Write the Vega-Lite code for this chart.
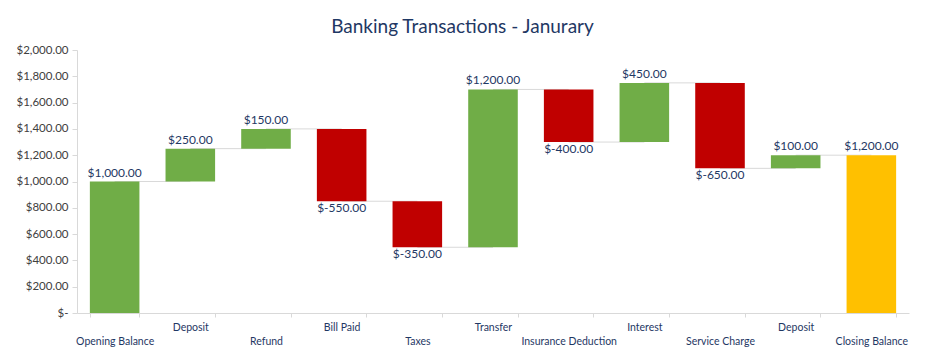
{
  "$schema": "https://vega.github.io/schema/vega-lite/v6.json",
  "width": 832,
  "height": 263,
  "padding": {"left": 15, "top": 18, "right": 17, "bottom": 5},
  "config": {"view": {"stroke": null}},
  "title": {"text": "Banking Transactions - Janurary", "font": "Lato", "fontSize": 19, "fontWeight": "normal", "color": "#1F3864", "anchor": "middle", "frame": "bounds", "offset": 7},
  "data": {"values": [
    {"cat": "Opening Balance", "amount": 1000, "start": 0, "end": 1000, "type": "up", "next": "Deposit"},
    {"cat": "Deposit", "amount": 250, "start": 1000, "end": 1250, "type": "up", "next": "Refund"},
    {"cat": "Refund", "amount": 150, "start": 1250, "end": 1400, "type": "up", "next": "Bill Paid"},
    {"cat": "Bill Paid", "amount": -550, "start": 1400, "end": 850, "type": "down", "next": "Taxes"},
    {"cat": "Taxes", "amount": -350, "start": 850, "end": 500, "type": "down", "next": "Transfer"},
    {"cat": "Transfer", "amount": 1200, "start": 500, "end": 1700, "type": "up", "next": "Insurance Deduction"},
    {"cat": "Insurance Deduction", "amount": -400, "start": 1700, "end": 1300, "type": "down", "next": "Interest"},
    {"cat": "Interest", "amount": 450, "start": 1300, "end": 1750, "type": "up", "next": "Service Charge"},
    {"cat": "Service Charge", "amount": -650, "start": 1750, "end": 1100, "type": "down", "next": "Deposit "},
    {"cat": "Deposit ", "amount": 100, "start": 1100, "end": 1200, "type": "up", "next": "Closing Balance"},
    {"cat": "Closing Balance", "amount": 1200, "start": 0, "end": 1200, "type": "total", "next": null}
  ]},
  "transform": [
    {"calculate": "'$' + (datum.amount < 0 ? '-' : '') + format(abs(datum.amount), ',.2f')", "as": "label"}
  ],
  "encoding": {
    "x": {
      "field": "cat", "type": "nominal", "sort": null,
      "scale": {
        "domain": ["Opening Balance", "Deposit", "Refund", "Bill Paid", "Taxes", "Transfer", "Insurance Deduction", "Interest", "Service Charge", "Deposit ", "Closing Balance"],
        "paddingInner": 0.345, "paddingOuter": 0.17
      },
      "axis": {
        "title": null, "labelAngle": 0, "labelFont": "Lato", "labelFontSize": 10.5, "labelColor": "#1F3864",
        "domainColor": "#D9D9D9", "tickColor": "#D9D9D9", "tickSize": 4, "tickBand": "extent",
        "labelBaseline": "middle", "labelOverlap": false, "labelLimit": 200,
        "labelExpr": "datum.value == null ? '' : trim(datum.value)",
        "labelPadding": {"condition": {"test": "indexof(['Opening Balance','Refund','Taxes','Insurance Deduction','Service Charge','Closing Balance'], datum.value) >= 0", "value": 24}, "value": 10}
      }
    },
    "y": {
      "field": "end", "type": "quantitative",
      "scale": {"domain": [0, 2000], "nice": false},
      "axis": {
        "title": null, "grid": false, "values": [0, 200, 400, 600, 800, 1000, 1200, 1400, 1600, 1800, 2000],
        "labelOverlap": false,
        "labelExpr": "datum.value === 0 ? '$-' : '$' + format(datum.value, ',.2f')",
        "labelFont": "Lato", "labelFontSize": 11.5, "labelColor": "#404040",
        "domainColor": "#D9D9D9", "tickColor": "#D9D9D9", "tickSize": 5, "labelPadding": 4
      }
    }
  },
  "layer": [
    {
      "transform": [{"filter": "datum.next != null"}],
      "mark": {"type": "rule", "color": "#D9D9D9", "strokeWidth": 1},
      "encoding": {
        "x2": {"field": "next"}
      }
    },
    {
      "mark": {"type": "bar"},
      "encoding": {
        "y": {
          "field": "start", "type": "quantitative",
          "scale": {"domain": [0, 2000], "nice": false},
          "axis": {
            "title": null, "grid": false, "values": [0, 200, 400, 600, 800, 1000, 1200, 1400, 1600, 1800, 2000],
            "labelOverlap": false,
            "labelExpr": "datum.value === 0 ? '$-' : '$' + format(datum.value, ',.2f')",
            "labelFont": "Lato", "labelFontSize": 11.5, "labelColor": "#404040",
            "domainColor": "#D9D9D9", "tickColor": "#D9D9D9", "tickSize": 5, "labelPadding": 4
          }
        },
        "y2": {"field": "end"},
        "color": {"field": "type", "type": "nominal", "scale": {"domain": ["up", "down", "total"], "range": ["#70AD47", "#C00000", "#FFC000"]}, "legend": null}
      }
    },
    {
      "transform": [{"filter": "datum.type != 'down'"}],
      "mark": {"type": "text", "baseline": "bottom", "dy": -2, "font": "Lato", "fontSize": 12, "color": "#1F3864"},
      "encoding": {
        "text": {"field": "label"}
      }
    },
    {
      "transform": [{"filter": "datum.type == 'down'"}],
      "mark": {"type": "text", "baseline": "top", "dy": 2, "font": "Lato", "fontSize": 12, "color": "#1F3864"},
      "encoding": {
        "text": {"field": "label"}
      }
    }
  ]
}
